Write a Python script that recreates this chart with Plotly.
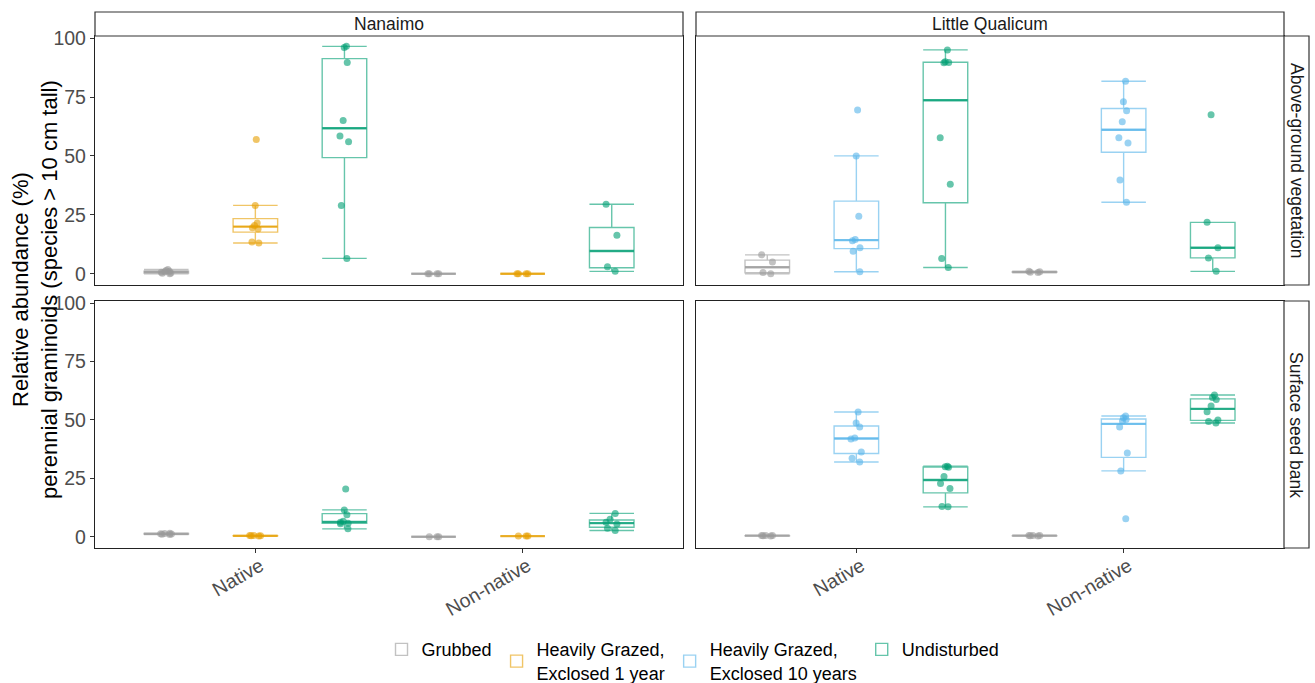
import numpy as np
import plotly.graph_objects as go

W, H = 1315, 683

sites = ["Nanaimo", "Little Qualicum"]
layers = ["Above-ground vegetation", "Surface seed bank"]
origins = ["Native", "Non-native"]
treatments = ["Grubbed", "Heavily Grazed,<br>Exclosed 1 year",
              "Heavily Grazed,<br>Exclosed 10 years", "Undisturbed"]
colors = ["#999999", "#E69F00", "#56B4E9", "#009E73"]
site_treatments = {"Nanaimo": [0, 1, 3], "Little Qualicum": [0, 2, 3]}
y_ticks = [0, 25, 50, 75, 100]

# ---- Nanaimo, above-ground vegetation ----
nan_ag_grubbed_native = [0.0, 0.2, 0.3, 0.6, 0.8, 1.0, 1.4, 1.8]
nan_ag_grubbed_nonnative = [0.0, 0.0, 0.0, 0.0]
nan_ag_hg1_native = [57, 29, 21.5, 20.5, 19.5, 19, 13.5, 13]
nan_ag_hg1_nonnative = [0.0, 0.0, 0.0, 0.0]
nan_ag_und_native = [96.5, 96, 89.7, 65, 58.5, 56, 29, 6.5]
nan_ag_und_nonnative = [29.5, 16.3, 3.0, 1.0]

# ---- Nanaimo, surface seed bank ----
nan_sb_grubbed_native = [1.5, 1.3, 1.2, 1.0, 1.4, 1.1]
nan_sb_grubbed_nonnative = [0.0, 0.0, 0.0]
nan_sb_hg1_native = [0.5, 0.4, 0.3, 0.6, 0.4]
nan_sb_hg1_nonnative = [0.3, 0.3, 0.3]
nan_sb_und_native = [20.5, 11.5, 9.4, 6.6, 6.2, 5.8, 5.6, 3.4]
nan_sb_und_nonnative = [10, 7.5, 6.2, 5.5, 3.6, 2.7]

# ---- Little Qualicum, above-ground vegetation ----
lq_ag_grubbed_native = [8, 5, 0.5, 0]
lq_ag_grubbed_nonnative = [0.5, 1.0, 0.8, 0.6]
lq_ag_hg10_native = [69.5, 50, 24.4, 14.5, 14, 11, 9.5, 0.8]
lq_ag_hg10_nonnative = [81.7, 73, 69.2, 64.5, 57.7, 55.5, 39.8, 30.3]
lq_ag_und_native = [95, 90, 89.7, 89.5, 57.7, 38, 6.5, 2.6]
lq_ag_und_nonnative = [67.5, 21.8, 11, 6.7, 1]

# ---- Little Qualicum, surface seed bank ----
lq_sb_grubbed_native = [0.6, 0.5, 0.4, 0.3, 0.5]
lq_sb_grubbed_nonnative = [0.6, 0.5, 0.4, 0.3, 0.5]
lq_sb_hg10_native = [53.4, 48.7, 47, 42.3, 41.8, 36.3, 33.6, 32]
lq_sb_hg10_nonnative = [51.7, 50.9, 50.2, 49.6, 47, 35.9, 28.2, 7.7]
lq_sb_und_native = [30.2, 30.0, 29.8, 25.8, 22.8, 20.7, 13.0, 12.8]
lq_sb_und_nonnative = [60.7, 59.6, 58.8, 56, 53.5, 50, 49.3, 48.7]

data = {
    ("Nanaimo", 0, 0): [nan_ag_grubbed_native, nan_ag_grubbed_nonnative],
    ("Nanaimo", 0, 1): [nan_ag_hg1_native, nan_ag_hg1_nonnative],
    ("Nanaimo", 0, 3): [nan_ag_und_native, nan_ag_und_nonnative],
    ("Nanaimo", 1, 0): [nan_sb_grubbed_native, nan_sb_grubbed_nonnative],
    ("Nanaimo", 1, 1): [nan_sb_hg1_native, nan_sb_hg1_nonnative],
    ("Nanaimo", 1, 3): [nan_sb_und_native, nan_sb_und_nonnative],
    ("Little Qualicum", 0, 0): [lq_ag_grubbed_native, lq_ag_grubbed_nonnative],
    ("Little Qualicum", 0, 2): [lq_ag_hg10_native, lq_ag_hg10_nonnative],
    ("Little Qualicum", 0, 3): [lq_ag_und_native, lq_ag_und_nonnative],
    ("Little Qualicum", 1, 0): [lq_sb_grubbed_native, lq_sb_grubbed_nonnative],
    ("Little Qualicum", 1, 2): [lq_sb_hg10_native, lq_sb_hg10_nonnative],
    ("Little Qualicum", 1, 3): [lq_sb_und_native, lq_sb_und_nonnative],
}


def rgba(hexc, a):
    h = hexc.lstrip("#")
    return "rgba(%d,%d,%d,%.2f)" % (int(h[0:2], 16), int(h[2:4], 16), int(h[4:6], 16), a)


def box_stats(v):
    """ggplot2-style (type 7 quantiles, 1.5 IQR whiskers)."""
    a = np.asarray(v, dtype=float)
    q1, med, q3 = np.percentile(a, [25, 50, 75])
    iqr = q3 - q1
    lf = a[a >= q1 - 1.5 * iqr].min()
    uf = a[a <= q3 + 1.5 * iqr].max()
    return float(q1), float(med), float(q3), float(lf), float(uf)


FONT = "Liberation Sans, Arial, sans-serif"
BOXW = 0.5 / 3

# panel geometry in pixels
col_x = [(95, 683), (696, 1284)]
row_y = [(36, 285), (301, 548)]

fig = go.Figure()
shown = set()
dodge = [-1 / 3, 0, 1 / 3]
for si, site in enumerate(sites):
    for li, layer in enumerate(layers):
        ax = li * 2 + si + 1
        xa = "x" if ax == 1 else "x%d" % ax
        ya = "y" if ax == 1 else "y%d" % ax
        for gi, ti in enumerate(site_treatments[site]):
            vals = data[(site, li, ti)]
            for oi, origin in enumerate(origins):
                v = vals[oi]
                pos = oi + 1 + dodge[gi]
                show = ti not in shown
                shown.add(ti)
                q1, med, q3, lf, uf = box_stats(v)
                col_line = rgba(colors[ti], 0.6)
                # box with ggplot-style statistics
                fig.add_trace(go.Box(
                    x=[pos], q1=[q1], median=[med], q3=[q3],
                    lowerfence=[lf], upperfence=[uf],
                    xaxis=xa, yaxis=ya,
                    name=treatments[ti], legendgroup=treatments[ti],
                    legendrank=ti + 1, showlegend=show,
                    width=BOXW, whiskerwidth=1, boxpoints=False,
                    line=dict(color=col_line, width=1.4),
                    fillcolor="rgba(255,255,255,0)",
                    marker=dict(color=col_line),
                    hoverinfo="skip",
                ))
                # thicker median line
                fig.add_trace(go.Scatter(
                    x=[pos - BOXW / 2, pos + BOXW / 2], y=[med, med],
                    xaxis=xa, yaxis=ya, mode="lines", showlegend=False,
                    line=dict(color=rgba(colors[ti], 0.75), width=2.4),
                    hoverinfo="skip",
                ))
                # jittered raw points (box outline hidden)
                fig.add_trace(go.Box(
                    x=[pos] * len(v), y=v, xaxis=xa, yaxis=ya,
                    name=treatments[ti], legendgroup=treatments[ti],
                    showlegend=False, width=BOXW,
                    boxpoints="all", jitter=0.3, pointpos=0,
                    line=dict(color="rgba(0,0,0,0)", width=0),
                    fillcolor="rgba(0,0,0,0)",
                    marker=dict(color=rgba(colors[ti], 0.6), size=7,
                                line=dict(width=0)),
                    hoverinfo="y",
                ))

tickfont = dict(family=FONT, size=19.5, color="#4d4d4d")
layout = dict(
    width=W, height=H,
    margin=dict(l=0, r=0, t=0, b=0, autoexpand=False),
    paper_bgcolor="white", plot_bgcolor="white",
    font=dict(family=FONT, size=16, color="black"),
    boxmode="overlay",
    showlegend=True,
    legend=dict(orientation="h", xref="paper", yref="paper",
                x=0.527, xanchor="center", y=-0.012, yanchor="bottom",
                font=dict(family=FONT, size=18, color="black"),
                bgcolor="rgba(0,0,0,0)", itemwidth=30, tracegroupgap=0),
)
for si in range(2):
    for li in range(2):
        ax = li * 2 + si + 1
        xk = "xaxis" if ax == 1 else "xaxis%d" % ax
        yk = "yaxis" if ax == 1 else "yaxis%d" % ax
        x0, x1 = col_x[si]
        y0, y1 = row_y[li]
        layout[xk] = dict(
            domain=[x0 / W, x1 / W], range=[0.4, 2.6],
            anchor="y" if ax == 1 else "y%d" % ax,
            tickvals=[1, 2], ticktext=origins,
            showticklabels=(li == 1), ticks="outside" if li == 1 else "",
            ticklen=4, tickcolor="#333333", tickangle=-30, tickfont=tickfont,
            ticklabelstandoff=-6, ticklabelshift=5,
            showline=True, linecolor="#222222", linewidth=1.3, mirror=True,
            showgrid=False, zeroline=False, automargin=False,
        )
        layout[yk] = dict(
            domain=[1 - y1 / H, 1 - y0 / H], range=[-4.8, 100.9],
            anchor="x" if ax == 1 else "x%d" % ax,
            tickvals=y_ticks, showticklabels=(si == 0),
            ticks="outside" if si == 0 else "", ticklen=4, tickcolor="#333333",
            tickfont=tickfont,
            showline=True, linecolor="#222222", linewidth=1.3, mirror=True,
            showgrid=False, zeroline=False, automargin=False,
        )
fig.update_layout(**layout)

shapes = []
annotations = []
# top strips
for si, site in enumerate(sites):
    x0, x1 = col_x[si]
    shapes.append(dict(type="rect", xref="paper", yref="paper",
                       x0=x0 / W, x1=x1 / W, y0=1 - 36 / H, y1=1 - 12 / H,
                       line=dict(color="#333333", width=1.2), fillcolor="white"))
    annotations.append(dict(text=site, xref="paper", yref="paper",
                            x=(x0 + x1) / 2 / W, y=1 - 24 / H, showarrow=False,
                            xanchor="center", yanchor="middle",
                            font=dict(family=FONT, size=17.5, color="#1a1a1a")))
# right strips
for li, layer in enumerate(layers):
    y0, y1 = row_y[li]
    shapes.append(dict(type="rect", xref="paper", yref="paper",
                       x0=1284 / W, x1=1309 / W, y0=1 - y1 / H, y1=1 - y0 / H,
                       line=dict(color="#333333", width=1.2), fillcolor="white"))
    annotations.append(dict(text=layer, xref="paper", yref="paper",
                            x=1296.5 / W, y=1 - (y0 + y1) / 2 / H, showarrow=False,
                            xanchor="center", yanchor="middle",
                            textangle=90, font=dict(family=FONT, size=17.5, color="#1a1a1a")))
# y-axis title
annotations.append(dict(text="Relative abundance (%)<br>perennial graminoids (species &gt; 10 cm tall)",
                        xref="paper", yref="paper", x=35 / W, y=1 - 290 / H,
                        xanchor="center", yanchor="middle",
                        showarrow=False, textangle=-90,
                        font=dict(family=FONT, size=22, color="black")))
fig.update_layout(shapes=shapes, annotations=annotations)

# the page's default 8px body margin would offset the figure
fig.write_html("out.html", config={"displayModeBar": False},
               post_script="document.body.style.margin='0px';")
